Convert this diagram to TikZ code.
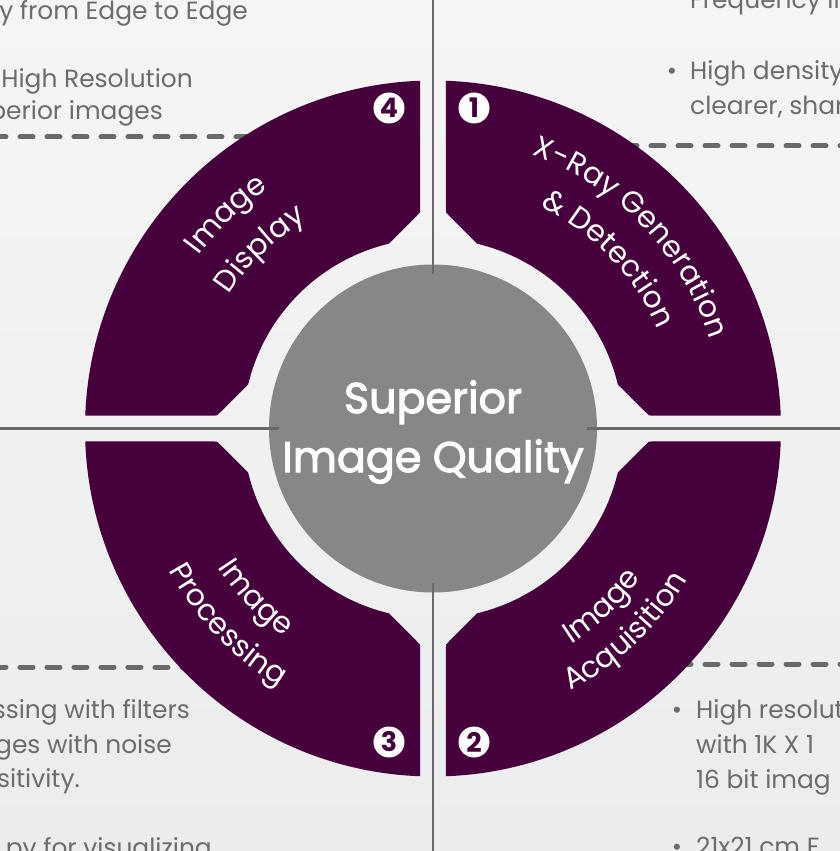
\documentclass[tikz,border=0pt]{standalone}
\usepackage{fontspec}
\usepackage{xcolor}
\setmainfont{Poppins}
\newfontfamily\corefam[FakeBold=2.5]{Poppins}
\usetikzlibrary{decorations.text}

\definecolor{plum}{RGB}{70,0,60}
\definecolor{disk}{RGB}{134,135,135}
\definecolor{axis}{RGB}{104,105,105}
\definecolor{note}{RGB}{108,108,108}
\definecolor{bgtop}{RGB}{245,245,245}
\definecolor{bgbot}{RGB}{235,236,237}

\newcommand{\notefont}{\fontsize{25}{30}\selectfont}
\newcommand{\corefont}{\corefam\fontsize{43}{52}\selectfont}
\newcommand{\qfont}{\fontsize{30}{36}\selectfont}
\newcommand{\numfont}{\fontsize{27}{28}\selectfont\bfseries}

\tikzset{
    note/.style={font=\notefont, text=note, inner sep=0pt},
    sep/.style={draw=axis, line width=5bp, line cap=round, dash pattern=on 13bp off 14bp},
    num/.style={circle, fill=white, text=plum, font=\numfont, inner sep=0pt, minimum size=31bp},
    arcword/.style={decorate, decoration={text along path, text align=center, text color=white}}
}

\begin{document}
\begin{tikzpicture}[x=1bp,y=1bp]
        % 画布与背景
        \coordinate (SW) at (-433,-422.5);
        \coordinate (NE) at (407,428.5);
        \useasboundingbox (SW) rectangle (NE);
        \clip (SW) rectangle (NE);
        \shade[top color=bgtop, bottom color=bgbot] (SW) rectangle (NE);
        \coordinate (O) at (0,0);

        % 虚线分隔
        \coordinate (d1a) at (-440,291.5);  \coordinate (d1b) at (-185,291.5);
        \coordinate (d2a) at (200,282.5);   \coordinate (d2b) at (420,282.5);
        \coordinate (d3a) at (-440,-238.5); \coordinate (d3b) at (-250,-238.5);
        \coordinate (d4a) at (250,-235.5);  \coordinate (d4b) at (420,-235.5);
        \draw[sep] (d1a) -- (d1b);
        \draw[sep] (d2b) -- (d2a);
        \draw[sep] (d3a) -- (d3b);
        \draw[sep] (d4b) -- (d4a);

        % 四个扇区
        \foreach \a in {0,90,180,270}
            \fill[plum, rotate=\a] (13,216) -- (87.86:348) arc[start angle=87.86, end angle=2.14, radius=348]
                -- (216,13) -- (13.45:190) arc[start angle=13.45, end angle=76.55, radius=190] -- cycle;

        % 中心圆
        \node[circle, fill=disk, minimum size=328bp, inner sep=0pt] (core) at (O) {};

        % 十字轴线
        \coordinate (L) at (-433,0);  \coordinate (Li) at (-154,0);
        \coordinate (R) at (407,0);   \coordinate (Ri) at (154,0);
        \coordinate (T) at (0,428.5); \coordinate (Ti) at (0,154);
        \coordinate (B) at (0,-422.5);\coordinate (Bi) at (0,-154);
        \draw[axis, line width=2.8bp] (L) -- (Li);
        \draw[axis, line width=2.8bp] (Ri) -- (R);
        \draw[axis, line width=2.8bp] (T) -- (Ti);
        \draw[axis, line width=2.8bp] (Bi) -- (B);

        \node[font=\corefont, text=white, inner sep=0pt, anchor=base] (core1) at (0,15.5) {Superior};
        \node[font=\corefont, text=white, inner sep=0pt, anchor=base] (core2) at (0,-43.5) {Image Quality};

        % 编号
        \node[num] (n1) at (41,320.5) {1};
        \node[num] (n2) at (41,-313.5) {2};
        \node[num] (n3) at (-44,-313.5) {3};
        \node[num] (n4) at (-44,320.5) {4};

        % 扇区文字
        \path[arcword, decoration={text={|\qfont|X-Ray Generation}}] (104:291) arc[start angle=104, end angle=-16, radius=291];
        \path[arcword, decoration={text={|\qfont|{\&} Detection}}] (104:246) arc[start angle=104, end angle=-16, radius=246];
        \path[arcword, decoration={text={|\qfont|Image}}] (-106.5:256) arc[start angle=-106.5, end angle=13.5, radius=256];
        \path[arcword, decoration={text={|\qfont|Acquisition}}] (-106.5:296) arc[start angle=-106.5, end angle=13.5, radius=296];
        \path[arcword, decoration={text={|\qfont|Image}}] (163.7:256) arc[start angle=163.7, end angle=283.7, radius=256];
        \path[arcword, decoration={text={|\qfont|Processing}}] (163.7:300) arc[start angle=163.7, end angle=283.7, radius=300];
        \path[arcword, decoration={text={|\qfont|Image}}] (194:291) arc[start angle=194, end angle=74, radius=291];
        \path[arcword, decoration={text={|\qfont|Display}}] (194:244) arc[start angle=194, end angle=74, radius=244];

        % 左上说明
        \node[note, anchor=base east] (tl1) at (-185,408.5) {y from Edge to Edge};
        \node[note, anchor=base east] (tl2) at (-240,340.5) {High Resolution};
        \node[note, anchor=base east] (tl3) at (-270,308.5) {perior images};

        % 右上说明
        \node[note, anchor=base west] (tr1) at (257,419.5) {Frequency in};
        \node[note, anchor=base] (tb1) at (239,348.5) {•};
        \node[note, anchor=base west] (tr2) at (257,348.5) {High density};
        \node[note, anchor=base west] (tr3) at (257,313.5) {clearer, shar};

        % 左下说明
        \node[note, anchor=base east] (bl1) at (-243,-289.5) {ssing with filters};
        \node[note, anchor=base east] (bl2) at (-261,-324.5) {ges with noise};
        \node[note, anchor=base east] (bl3) at (-353,-358.5) {sitivity.};
        \node[note, anchor=base east] (bl4) at (-221,-427.5) {py for visualizing};

        % 右下说明
        \node[note, anchor=base] (bb1) at (244,-289.5) {•};
        \node[note, anchor=base west] (br1) at (263,-289.5) {High resolut};
        \node[note, anchor=base west] (br2) at (263,-324.5) {with 1K X 1};
        \node[note, anchor=base west] (br3) at (263,-359.5) {16 bit imag};
        \node[note, anchor=base] (bb2) at (244,-426.5) {•};
        \node[note, anchor=base west] (br4) at (263,-426.5) {21x21 cm F};
\end{tikzpicture}
\end{document}
